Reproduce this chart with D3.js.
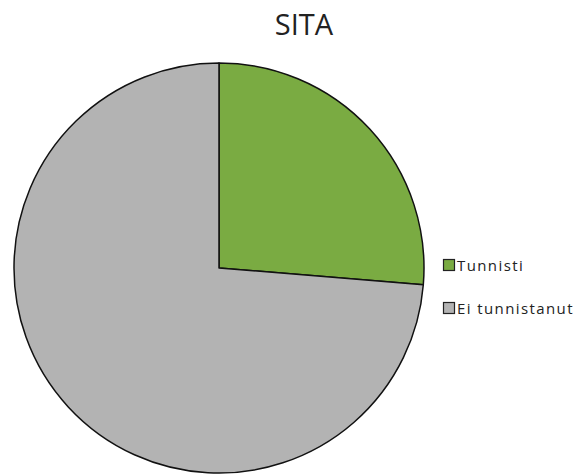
<!DOCTYPE html>
<html>
<head>
<meta charset="utf-8">
<script src="https://cdn.jsdelivr.net/npm/d3@7"></script>
<style>
  html, body { margin: 0; padding: 0; background: #fff; }
  svg { display: block; }
</style>
</head>
<body>
<svg id="chart" width="579" height="475"></svg>
<script>
// Chart data
const title = "SITA";
const categories = ["Tunnisti", "Ei tunnistanut"];
const shares = [26.3, 73.7];
const colors = ["#7aab42", "#b3b3b3"];

const svg = d3.select("#chart");
const W = 579, H = 475;

// Title
svg.append("text")
  .attr("x", 304)
  .attr("y", 35)
  .attr("text-anchor", "middle")
  .attr("font-family", "'Open Sans', sans-serif")
  .attr("font-size", 29)
  .attr("fill", "#222")
  .text(title);

// Pie
const cx = 219, cy = 268, r = 205;
const pie = d3.pie().sort(null).value(d => d.v);
const arc = d3.arc().innerRadius(0).outerRadius(r);
const data = categories.map((c, i) => ({ c, v: shares[i], color: colors[i] }));

const g = svg.append("g").attr("transform", `translate(${cx},${cy})`);
g.selectAll("path")
  .data(pie(data))
  .join("path")
  .attr("d", arc)
  .attr("fill", d => d.data.color)
  .attr("stroke", "#111")
  .attr("stroke-width", 1.5)
  .attr("stroke-linejoin", "round");

// Legend
const legend = svg.append("g").attr("transform", "translate(443,259)");
const item = legend.selectAll("g")
  .data(data)
  .join("g")
  .attr("transform", (d, i) => `translate(0,${i * 43})`);
item.append("rect")
  .attr("x", 0.5).attr("y", 0.5)
  .attr("width", 11).attr("height", 11)
  .attr("fill", d => d.color)
  .attr("stroke", "#222")
  .attr("stroke-width", 1.2);
item.append("text")
  .attr("x", 14)
  .attr("y", 11.5)
  .attr("font-family", "'Open Sans', sans-serif")
  .attr("font-size", 15)
  .attr("letter-spacing", 1.4)
  .attr("fill", "#222")
  .text(d => d.c);
</script>
</body>
</html>
